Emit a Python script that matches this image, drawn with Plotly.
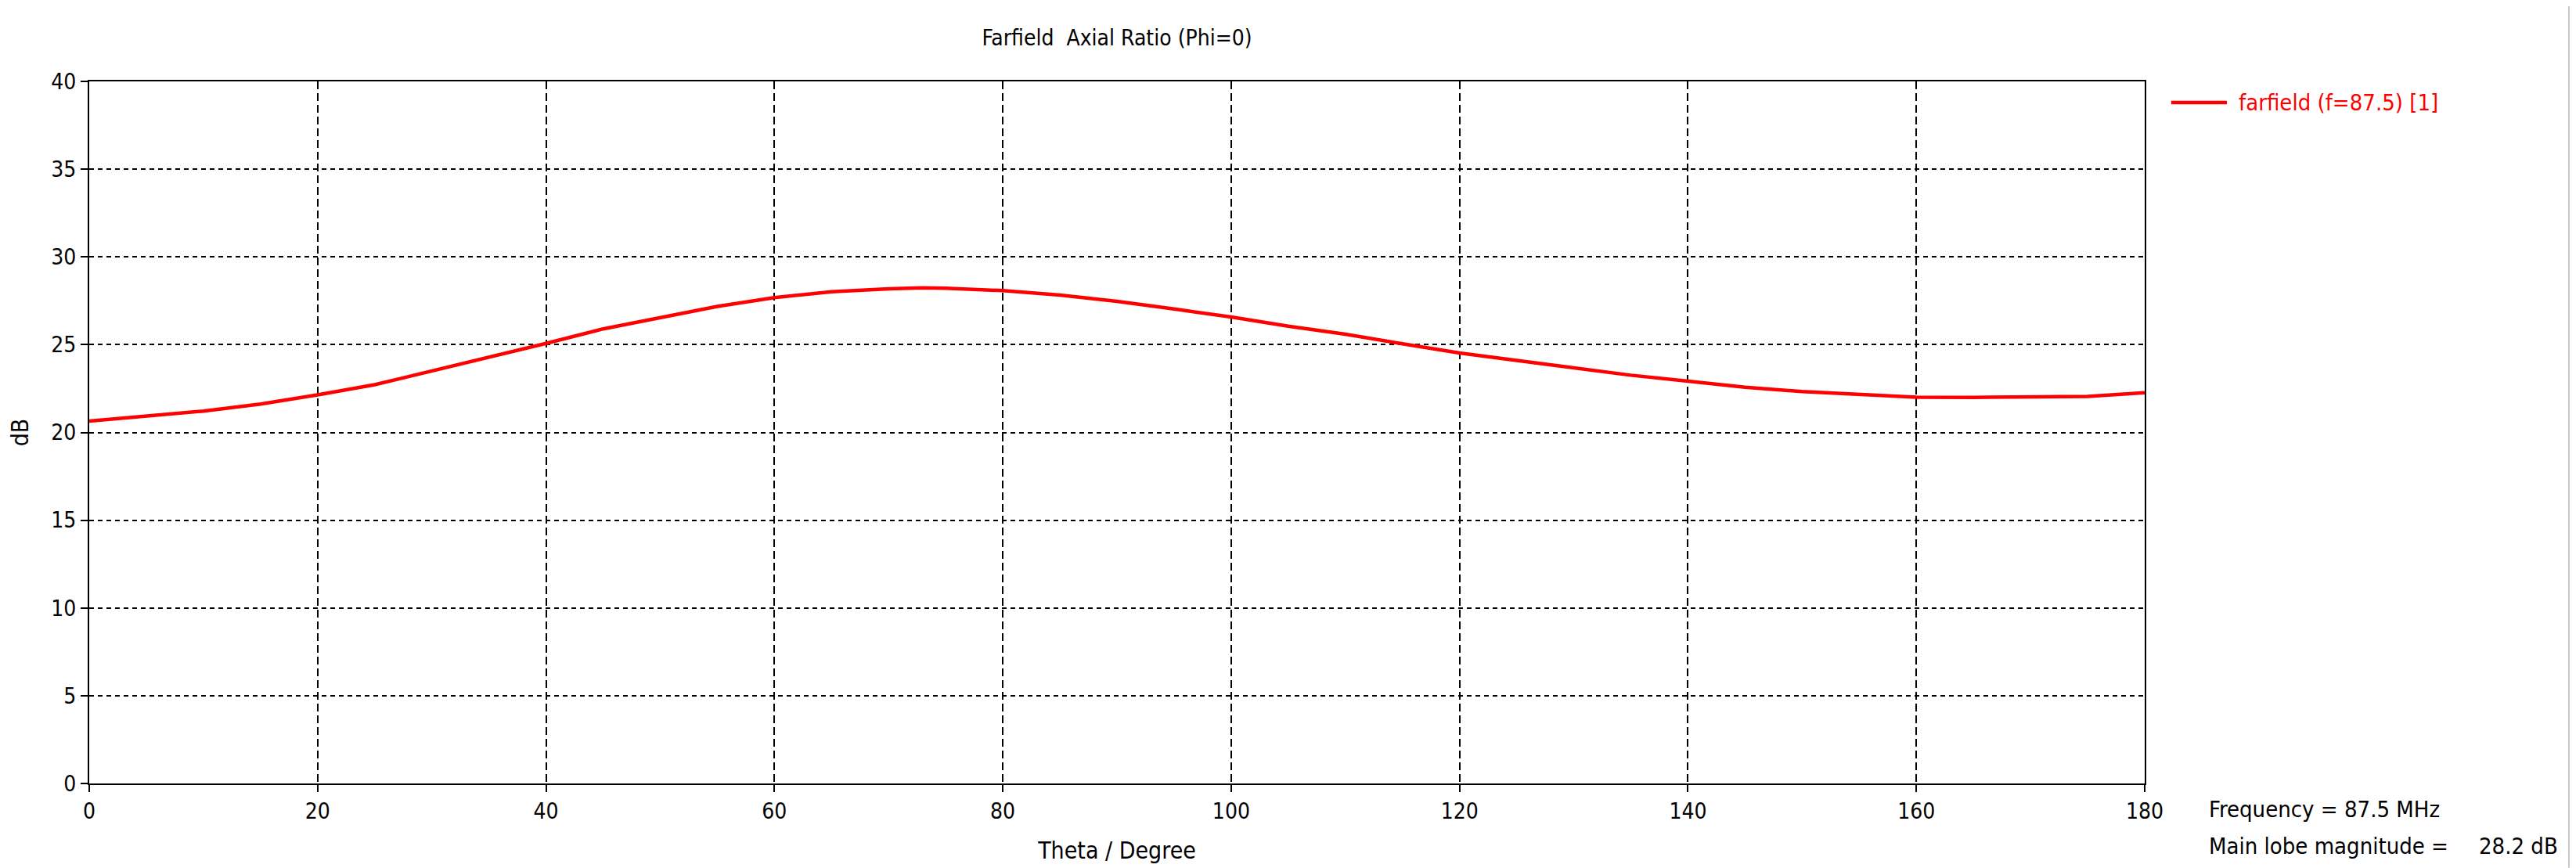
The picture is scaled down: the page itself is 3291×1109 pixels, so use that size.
import plotly.graph_objects as go

# ==========================
# DATA
# ==========================
theta_deg = [0, 5, 10, 15, 20, 25, 30, 35, 40, 45, 50, 55, 60, 65, 70, 73, 75,
             80, 85, 90, 95, 100, 105, 110, 115, 120, 125, 130, 135, 140, 145,
             150, 155, 160, 165, 170, 175, 180]
axial_ratio_db = [20.65, 20.92, 21.22, 21.62, 22.14, 22.72, 23.50, 24.28, 25.07,
                  25.90, 26.53, 27.18, 27.68, 28.02, 28.18, 28.24, 28.22, 28.08,
                  27.83, 27.47, 27.03, 26.58, 26.05, 25.60, 25.05, 24.53, 24.10,
                  23.66, 23.26, 22.92, 22.58, 22.33, 22.15, 22.01, 22.00, 22.00,
                  22.05, 22.26]
x_ticks = [0, 20, 40, 60, 80, 100, 120, 140, 160, 180]
y_ticks = [0, 5, 10, 15, 20, 25, 30, 35, 40]

series_name = "farfield (f=87.5) [1]"
chart_title = "Farfield \u00a0Axial Ratio (Phi=0)"
freq_text = "Frequency = 87.5 MHz"
lobe_label = "Main lobe magnitude ="
lobe_value = "28.2 dB"

FONT = "Tahoma, 'DejaVu Sans Condensed', 'Liberation Sans', sans-serif"
RED = "#ff0000"

# page body has an 8px margin, so the figure is sized to fit the window
W, H = 3283, 1101

# ==========================
# FIGURE
# ==========================
fig = go.Figure()
fig.add_trace(go.Scatter(x=theta_deg, y=axial_ratio_db, mode="lines",
                         name=series_name, showlegend=False,
                         line=dict(color=RED, width=4.5)))

axis_common = dict(showline=True, linecolor="black", linewidth=2, mirror=True,
                   ticks="outside", ticklen=9, tickwidth=2, tickcolor="black",
                   showgrid=True, gridcolor="black", gridwidth=2,
                   zeroline=False, automargin=False,
                   tickfont=dict(size=28, color="black"))

fig.update_xaxes(range=[0, 180], tickvals=x_ticks, griddash="10px,5px",
                 title=dict(text="Theta / Degree", font=dict(size=30), standoff=24),
                 **axis_common)
fig.update_yaxes(range=[0, 40], tickvals=y_ticks, griddash="6px,5px",
                 title=dict(text="dB", font=dict(size=30), standoff=32),
                 **axis_common)

fig.update_layout(
    width=W, height=H,
    margin=dict(l=106, r=551, t=96, b=108, autoexpand=False),
    paper_bgcolor="white", plot_bgcolor="white",
    font=dict(family=FONT, color="black", size=29),
    title=dict(text=chart_title, x=0.5, xref="paper", y=1 - 40 / H,
               yanchor="middle", font=dict(size=28)),
    showlegend=False,
)

# legend drawn by hand so the sample line has the reference's length
fig.add_shape(type="line", xref="paper", yref="paper", x0=1.0129, x1=1.040,
              y0=0.9699, y1=0.9699, line=dict(color=RED, width=4.5))
fig.add_annotation(text=series_name, xref="paper", yref="paper", x=1.0449, y=0.9699,
                   xanchor="left", yanchor="middle", showarrow=False,
                   font=dict(size=29, color=RED))

# info text under the legend area
fig.add_annotation(text=freq_text, xref="paper", yref="paper", x=1.0305, y=-0.0368,
                   xanchor="left", yanchor="middle", showarrow=False)
fig.add_annotation(text=lobe_label, xref="paper", yref="paper", x=1.0305, y=-0.0893,
                   xanchor="left", yanchor="middle", showarrow=False)
fig.add_annotation(text=lobe_value, xref="paper", yref="paper", x=1.2018, y=-0.0893,
                   xanchor="right", yanchor="middle", showarrow=False)

# window border on the right edge
fig.add_shape(type="rect", xref="paper", yref="paper", x0=1.2060, x1=1.2095,
              y0=-0.12, y1=1.11, fillcolor="#c8c8c8", line=dict(width=0))

fig.write_html("out.html")
